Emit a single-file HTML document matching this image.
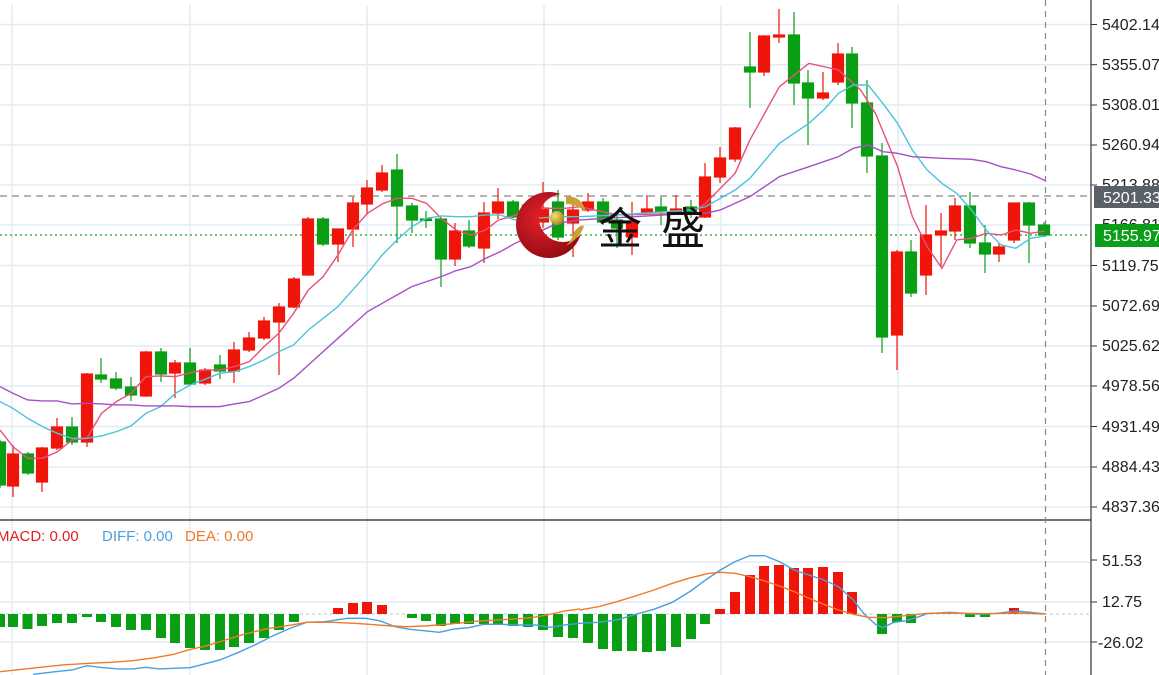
<!DOCTYPE html>
<html><head><meta charset="utf-8"><style>
html,body{margin:0;padding:0;background:#fff;width:1159px;height:675px;overflow:hidden}
svg{display:block}
text{font-family:"Liberation Sans",sans-serif}
</style></head><body>
<svg width="1159" height="675" viewBox="0 0 1159 675" xmlns="http://www.w3.org/2000/svg">
<defs>
<radialGradient id="rg" cx="0.4" cy="0.4" r="0.7"><stop offset="0" stop-color="#e8202a"/><stop offset="1" stop-color="#8a0a12"/></radialGradient>
<radialGradient id="gg" cx="0.35" cy="0.35" r="0.7"><stop offset="0" stop-color="#f6e27a"/><stop offset="1" stop-color="#a8841c"/></radialGradient>
<mask id="cm"><rect x="500" y="180" width="100" height="100" fill="#fff"/><circle cx="563" cy="218" r="24" fill="#000"/></mask>
</defs>
<g stroke="#e3ebf2" stroke-width="1.5">
<line x1="0" y1="24.5" x2="1091" y2="24.5"/><line x1="0" y1="64.7" x2="1091" y2="64.7"/><line x1="0" y1="105" x2="1091" y2="105"/><line x1="0" y1="145" x2="1091" y2="145"/><line x1="0" y1="185" x2="1091" y2="185"/><line x1="0" y1="225" x2="1091" y2="225"/><line x1="0" y1="265.5" x2="1091" y2="265.5"/><line x1="0" y1="306" x2="1091" y2="306"/><line x1="0" y1="346" x2="1091" y2="346"/><line x1="0" y1="386" x2="1091" y2="386"/><line x1="0" y1="426.5" x2="1091" y2="426.5"/><line x1="0" y1="467" x2="1091" y2="467"/><line x1="0" y1="507" x2="1091" y2="507"/>
<line x1="0" y1="562" x2="1091" y2="562"/><line x1="0" y1="602" x2="1091" y2="602"/><line x1="0" y1="642" x2="1091" y2="642"/>
<line x1="12" y1="5" x2="12" y2="675"/><line x1="190" y1="5" x2="190" y2="675"/><line x1="367" y1="5" x2="367" y2="675"/><line x1="544" y1="5" x2="544" y2="675"/><line x1="721" y1="5" x2="721" y2="675"/><line x1="898" y1="5" x2="898" y2="675"/>
</g>
<line x1="0" y1="520" x2="1091" y2="520" stroke="#222" stroke-width="1.2"/>
<line x1="1091" y1="0" x2="1091" y2="675" stroke="#333" stroke-width="1.2"/>
<line x1="1045.5" y1="0" x2="1045.5" y2="675" stroke="#888" stroke-width="1.2" stroke-dasharray="6,5"/>
<line x1="0" y1="196" x2="1091" y2="196" stroke="#888" stroke-width="1.2" stroke-dasharray="7,5"/>
<line x1="0" y1="235" x2="1091" y2="235" stroke="#1a9e1a" stroke-width="1.2" stroke-dasharray="2,3"/>
<line x1="0" y1="614" x2="1091" y2="614" stroke="#9fd3e6" stroke-width="1" stroke-dasharray="3,3"/>

<g stroke-width="1.2">
<g fill="#0a9e14" stroke="#0a9e14">
<line x1="0" y1="440" x2="0" y2="488"/><rect x="-5.5" y="442" width="11" height="43"/>
<line x1="28" y1="452" x2="28" y2="475"/><rect x="22.5" y="454" width="11" height="19"/>
<line x1="72" y1="417" x2="72" y2="445"/><rect x="66.5" y="427" width="11" height="15"/>
<line x1="101" y1="358" x2="101" y2="383"/><rect x="95.5" y="375" width="11" height="4"/>
<line x1="116" y1="372" x2="116" y2="390"/><rect x="110.5" y="379" width="11" height="9"/>
<line x1="131" y1="377" x2="131" y2="401"/><rect x="125.5" y="387" width="11" height="8"/>
<line x1="161" y1="348" x2="161" y2="382"/><rect x="155.5" y="352" width="11" height="22"/>
<line x1="190" y1="348" x2="190" y2="385"/><rect x="184.5" y="363" width="11" height="21"/>
<line x1="220" y1="355" x2="220" y2="379"/><rect x="214.5" y="365" width="11" height="6"/>
<line x1="323" y1="217" x2="323" y2="246"/><rect x="317.5" y="219" width="11" height="25"/>
<line x1="397" y1="154" x2="397" y2="243"/><rect x="391.5" y="170" width="11" height="36"/>
<line x1="412" y1="203" x2="412" y2="233"/><rect x="406.5" y="206" width="11" height="14"/>
<line x1="426" y1="211" x2="426" y2="228"/><rect x="420.5" y="219" width="11" height="1.5"/>
<line x1="441" y1="218" x2="441" y2="287"/><rect x="435.5" y="219" width="11" height="40"/>
<line x1="469" y1="220" x2="469" y2="248"/><rect x="463.5" y="231" width="11" height="15"/>
<line x1="513" y1="200" x2="513" y2="218"/><rect x="507.5" y="202" width="11" height="15"/>
<line x1="528" y1="200" x2="528" y2="220"/><rect x="522.5" y="205" width="11" height="10"/>
<line x1="558" y1="190" x2="558" y2="240"/><rect x="552.5" y="202" width="11" height="35"/>
<line x1="603" y1="198" x2="603" y2="225"/><rect x="597.5" y="202" width="11" height="20"/>
<line x1="617" y1="214" x2="617" y2="248"/><rect x="611.5" y="220" width="11" height="8"/>
<line x1="661" y1="197" x2="661" y2="225"/><rect x="655.5" y="207" width="11" height="5"/>
<line x1="691" y1="200" x2="691" y2="218"/><rect x="685.5" y="207" width="11" height="6"/>
<line x1="750" y1="32" x2="750" y2="108"/><rect x="744.5" y="67" width="11" height="5"/>
<line x1="794" y1="12" x2="794" y2="105"/><rect x="788.5" y="35" width="11" height="48"/>
<line x1="808" y1="70" x2="808" y2="145"/><rect x="802.5" y="83" width="11" height="15"/>
<line x1="852" y1="47" x2="852" y2="128"/><rect x="846.5" y="54" width="11" height="49"/>
<line x1="867" y1="80" x2="867" y2="173"/><rect x="861.5" y="103" width="11" height="53"/>
<line x1="882" y1="143" x2="882" y2="353"/><rect x="876.5" y="156" width="11" height="181"/>
<line x1="911" y1="240" x2="911" y2="297"/><rect x="905.5" y="252" width="11" height="41"/>
<line x1="970" y1="192" x2="970" y2="248"/><rect x="964.5" y="206" width="11" height="37"/>
<line x1="985" y1="225" x2="985" y2="273"/><rect x="979.5" y="243" width="11" height="11"/>
<line x1="1029" y1="202" x2="1029" y2="263"/><rect x="1023.5" y="203" width="11" height="22"/>
<line x1="1044" y1="222" x2="1044" y2="237"/><rect x="1038.5" y="225" width="11" height="10"/>
</g>
<g fill="#f0150a" stroke="#f0150a">
<line x1="13" y1="445" x2="13" y2="497"/><rect x="7.5" y="454" width="11" height="32"/>
<line x1="42" y1="447" x2="42" y2="492"/><rect x="36.5" y="448" width="11" height="34"/>
<line x1="57" y1="418" x2="57" y2="450"/><rect x="51.5" y="427" width="11" height="21"/>
<line x1="87" y1="373" x2="87" y2="447"/><rect x="81.5" y="374" width="11" height="68"/>
<line x1="146" y1="351" x2="146" y2="397"/><rect x="140.5" y="352" width="11" height="44"/>
<line x1="175" y1="360" x2="175" y2="398"/><rect x="169.5" y="363" width="11" height="10"/>
<line x1="205" y1="368" x2="205" y2="385"/><rect x="199.5" y="370" width="11" height="13"/>
<line x1="234" y1="342" x2="234" y2="383"/><rect x="228.5" y="350" width="11" height="21"/>
<line x1="249" y1="332" x2="249" y2="352"/><rect x="243.5" y="338" width="11" height="12"/>
<line x1="264" y1="317" x2="264" y2="340"/><rect x="258.5" y="321" width="11" height="17"/>
<line x1="279" y1="303" x2="279" y2="375"/><rect x="273.5" y="307" width="11" height="15"/>
<line x1="294" y1="277" x2="294" y2="308"/><rect x="288.5" y="279" width="11" height="28"/>
<line x1="308" y1="217" x2="308" y2="276"/><rect x="302.5" y="219" width="11" height="56"/>
<line x1="338" y1="229" x2="338" y2="262"/><rect x="332.5" y="229" width="11" height="15"/>
<line x1="353" y1="197" x2="353" y2="247"/><rect x="347.5" y="203" width="11" height="26"/>
<line x1="367" y1="180" x2="367" y2="215"/><rect x="361.5" y="188" width="11" height="16"/>
<line x1="382" y1="165" x2="382" y2="192"/><rect x="376.5" y="173" width="11" height="17"/>
<line x1="455" y1="223" x2="455" y2="266"/><rect x="449.5" y="231" width="11" height="28"/>
<line x1="484" y1="202" x2="484" y2="263"/><rect x="478.5" y="213" width="11" height="35"/>
<line x1="498" y1="188" x2="498" y2="219"/><rect x="492.5" y="202" width="11" height="11"/>
<line x1="543" y1="182" x2="543" y2="228"/><rect x="537.5" y="208" width="11" height="14"/>
<line x1="573" y1="198" x2="573" y2="257"/><rect x="567.5" y="210" width="11" height="13"/>
<line x1="588" y1="193" x2="588" y2="212"/><rect x="582.5" y="202" width="11" height="8"/>
<line x1="632" y1="202" x2="632" y2="255"/><rect x="626.5" y="222" width="11" height="15"/>
<line x1="647" y1="195" x2="647" y2="214"/><rect x="641.5" y="209" width="11" height="3"/>
<line x1="676" y1="195" x2="676" y2="215"/><rect x="670.5" y="209" width="11" height="4"/>
<line x1="705" y1="163" x2="705" y2="218"/><rect x="699.5" y="177" width="11" height="40"/>
<line x1="720" y1="147" x2="720" y2="183"/><rect x="714.5" y="158" width="11" height="19"/>
<line x1="735" y1="127" x2="735" y2="162"/><rect x="729.5" y="128" width="11" height="31"/>
<line x1="764" y1="35" x2="764" y2="76"/><rect x="758.5" y="36" width="11" height="36"/>
<line x1="779" y1="9" x2="779" y2="43"/><rect x="773.5" y="35" width="11" height="2"/>
<line x1="823" y1="72" x2="823" y2="100"/><rect x="817.5" y="93" width="11" height="5"/>
<line x1="838" y1="43" x2="838" y2="85"/><rect x="832.5" y="54" width="11" height="28"/>
<line x1="897" y1="250" x2="897" y2="370"/><rect x="891.5" y="252" width="11" height="83"/>
<line x1="926" y1="205" x2="926" y2="295"/><rect x="920.5" y="235" width="11" height="40"/>
<line x1="941" y1="213" x2="941" y2="267"/><rect x="935.5" y="231" width="11" height="4"/>
<line x1="955" y1="198" x2="955" y2="240"/><rect x="949.5" y="206" width="11" height="25"/>
<line x1="999" y1="243" x2="999" y2="262"/><rect x="993.5" y="247" width="11" height="7"/>
<line x1="1014" y1="203" x2="1014" y2="243"/><rect x="1008.5" y="203" width="11" height="37"/>
</g>
</g>

<g fill="none" stroke-width="1.4">
<g transform="scale(0.3693,0.3333)">
<polyline vector-effect="non-scaling-stroke" stroke="#e8507a" points="0,1290 35,1340 75,1375 115,1375 155,1356 195,1320 235,1315 275,1240 315,1205 355,1180 395,1130 435,1128 475,1130 515,1118 555,1110 595,1110 635,1100 675,1085 715,1040 755,1000 795,940 835,870 875,830 915,765 955,690 995,640 1035,612 1075,595 1115,595 1155,610 1195,655 1235,690 1275,705 1315,690 1350,660 1390,648 1430,630 1480,625 1530,625 1571,620"/>
<polyline vector-effect="non-scaling-stroke" stroke="#4cc3d9" points="0,1205 35,1225 75,1255 115,1280 155,1300 195,1315 235,1315 275,1308 315,1295 355,1278 395,1240 435,1220 475,1180 515,1155 555,1138 595,1120 635,1115 675,1100 715,1080 755,1055 795,1035 835,990 875,955 915,920 955,870 995,820 1035,765 1075,720 1115,680 1155,655 1195,648 1235,650 1275,650 1315,645 1355,645 1395,660 1450,655 1510,650 1571,650"/>
<polyline vector-effect="non-scaling-stroke" stroke="#a64fc4" points="0,1160 35,1180 75,1200 115,1203 155,1203 195,1212 235,1210 275,1212 315,1215 355,1215 395,1218 475,1218 515,1220 595,1220 635,1212 675,1205 715,1185 755,1165 795,1135 835,1095 875,1055 915,1015 955,975 995,935 1035,910 1075,885 1115,860 1155,845 1195,830 1235,812 1275,800 1315,775 1355,755 1395,730 1450,700 1510,670 1571,660"/>
</g>
<g transform="translate(580,0) scale(0.3693,0.3333)">
<polyline vector-effect="non-scaling-stroke" stroke="#e8507a" points="0,620 100,645 300,640 340,610 420,520 460,420 540,260 620,190 700,210 760,270 800,340 860,500 900,650 940,740 980,805 1020,720 1060,715 1100,700 1140,705 1180,690 1220,700 1260,693"/>
<polyline vector-effect="non-scaling-stroke" stroke="#4cc3d9" points="0,650 100,645 300,630 340,620 420,570 460,535 540,430 620,370 660,330 700,280 740,255 780,255 820,310 860,370 900,450 940,510 980,550 1020,580 1060,630 1100,690 1140,735 1180,745 1220,715 1260,708"/>
<polyline vector-effect="non-scaling-stroke" stroke="#a64fc4" points="0,660 300,640 340,640 380,630 460,590 540,530 620,500 700,470 740,445 780,435 820,455 860,460 900,470 980,475 1060,478 1100,485 1140,500 1180,510 1220,522 1260,542"/>
</g>
</g>

<circle cx="549" cy="225" r="33" fill="url(#rg)" mask="url(#cm)"/>
<path d="M566,196 Q582,196 586,212 Q576,204 566,204 Z" fill="#c9a235"/>
<path d="M574,232 Q580,224 584,226 Q580,238 566,246 Q572,240 574,232 Z" fill="#c9a235"/>
<circle cx="557" cy="218" r="7" fill="url(#gg)"/>
<text x="598" y="244" font-size="44" fill="#111" style="font-family:'Liberation Sans','Noto Sans CJK SC',sans-serif">金</text>
<text x="661" y="244" font-size="44" fill="#111" style="font-family:'Liberation Sans','Noto Sans CJK SC',sans-serif">盛</text>

<g fill="#0a9e14">
<rect x="-5" y="614" width="10" height="13"/><rect x="8" y="614" width="10" height="13"/><rect x="22.5" y="614" width="10" height="15"/><rect x="37" y="614" width="10" height="12"/><rect x="52" y="614" width="10" height="9"/><rect x="67" y="614" width="10" height="9"/><rect x="82" y="614" width="10" height="3"/><rect x="96" y="614" width="10" height="8"/><rect x="111" y="614" width="10" height="13"/><rect x="126" y="614" width="10" height="16"/><rect x="141" y="614" width="10" height="16"/><rect x="156" y="614" width="10" height="24"/><rect x="170" y="614" width="10" height="29"/><rect x="185" y="614" width="10" height="34"/><rect x="200" y="614" width="10" height="36"/><rect x="215" y="614" width="10" height="36"/><rect x="229" y="614" width="10" height="33"/><rect x="244" y="614" width="10" height="29"/><rect x="259" y="614" width="10" height="24"/><rect x="274" y="614" width="10" height="16"/><rect x="289" y="614" width="10" height="8"/>
<rect x="407" y="614" width="10" height="4"/><rect x="421" y="614" width="10" height="7"/><rect x="436" y="614" width="10" height="12"/><rect x="450" y="614" width="10" height="10"/><rect x="464" y="614" width="10" height="10"/><rect x="479" y="614" width="10" height="10"/><rect x="493" y="614" width="10" height="10"/><rect x="508" y="614" width="10" height="12"/><rect x="523" y="614" width="10" height="13"/><rect x="538" y="614" width="10" height="16"/><rect x="553" y="614" width="10" height="23"/><rect x="568" y="614" width="10" height="24"/>
<rect x="583" y="614" width="10" height="29"/><rect x="598" y="614" width="10" height="35"/><rect x="612" y="614" width="10" height="37"/><rect x="627" y="614" width="10" height="37"/><rect x="642" y="614" width="10" height="38"/><rect x="656" y="614" width="10" height="37"/><rect x="671" y="614" width="10" height="33"/><rect x="686" y="614" width="10" height="25"/><rect x="700" y="614" width="10" height="10"/>
<rect x="877" y="614" width="10" height="20"/><rect x="892" y="614" width="10" height="8"/><rect x="906" y="614" width="10" height="9"/><rect x="965" y="614" width="10" height="3"/><rect x="980" y="614" width="10" height="3"/>
</g>
<g fill="#f0150a">
<rect x="333" y="608" width="10" height="6"/><rect x="348" y="603" width="10" height="11"/><rect x="362" y="602" width="10" height="12"/><rect x="377" y="605" width="10" height="9"/>
<rect x="715" y="609" width="10" height="5"/><rect x="730" y="592" width="10" height="22"/><rect x="745" y="575" width="10" height="39"/><rect x="759" y="566" width="10" height="48"/><rect x="774" y="565" width="10" height="49"/><rect x="789" y="568" width="10" height="46"/><rect x="803" y="568" width="10" height="46"/><rect x="818" y="567" width="10" height="47"/><rect x="833" y="572" width="10" height="42"/><rect x="847" y="592" width="10" height="22"/>
<rect x="1009" y="608" width="10" height="6"/>
</g>
<g fill="none" stroke-width="1.4">
<g transform="translate(0,515) scale(0.3693,0.3333)">
<polyline vector-effect="non-scaling-stroke" stroke="#4a9ee0" points="90,478 150,470 195,465 235,452 280,458 320,462 360,462 395,457 430,462 470,460 515,458 550,448 595,435 640,415 690,390 740,362 790,338 830,322 880,320 940,310 990,310 1030,318 1070,335 1110,343 1190,352 1230,342 1270,338 1310,328 1360,328 1400,330 1450,330 1490,337 1530,330 1571,325"/>
<polyline vector-effect="non-scaling-stroke" stroke="#f07a28" points="0,470 100,458 170,450 240,445 300,442 360,437 420,428 470,418 510,405 560,392 610,375 660,358 720,342 790,330 830,322 900,322 960,325 1000,328 1060,333 1100,335 1150,333 1220,327 1300,318 1380,313 1440,308 1490,298 1530,288 1571,282"/>
</g>
<g transform="translate(580,515) scale(0.3693,0.3333)">
<polyline vector-effect="non-scaling-stroke" stroke="#4a9ee0" points="0,325 50,322 100,315 150,298 200,283 250,262 300,228 340,195 380,165 420,140 460,122 500,122 540,140 580,165 620,180 660,195 700,215 740,255 770,298 800,328 820,338 850,322 880,318 910,308 940,296 1000,292 1040,295 1080,298 1130,295 1180,288 1220,292 1260,297"/>
<polyline vector-effect="non-scaling-stroke" stroke="#f07a28" points="0,285 50,275 100,260 150,243 200,225 250,205 300,188 350,175 380,172 420,175 460,185 500,198 540,213 580,230 620,250 660,268 700,285 740,298 780,307 830,308 880,302 940,295 1000,294 1100,296 1180,294 1260,297"/>
</g>
</g>

<text x="-3" y="541" font-size="15" fill="#e02020">MACD: 0.00</text>
<text x="102" y="541" font-size="15" fill="#4a9ee0">DIFF: 0.00</text>
<text x="185" y="541" font-size="15" fill="#f07a28">DEA: 0.00</text>

<g stroke="#333" stroke-width="1">
<line x1="1091" y1="24.5" x2="1097" y2="24.5"/><line x1="1091" y1="64.7" x2="1097" y2="64.7"/><line x1="1091" y1="105" x2="1097" y2="105"/><line x1="1091" y1="145" x2="1097" y2="145"/><line x1="1091" y1="185" x2="1097" y2="185"/><line x1="1091" y1="265.5" x2="1097" y2="265.5"/><line x1="1091" y1="306" x2="1097" y2="306"/><line x1="1091" y1="346" x2="1097" y2="346"/><line x1="1091" y1="386" x2="1097" y2="386"/><line x1="1091" y1="426.5" x2="1097" y2="426.5"/><line x1="1091" y1="467" x2="1097" y2="467"/><line x1="1091" y1="507" x2="1097" y2="507"/>
<line x1="1091" y1="560" x2="1097" y2="560"/><line x1="1091" y1="602" x2="1097" y2="602"/><line x1="1091" y1="642" x2="1097" y2="642"/>
</g>
<g font-size="16" fill="#222">
<text x="1102" y="30">5402.14</text><text x="1102" y="70">5355.07</text><text x="1102" y="110">5308.01</text><text x="1102" y="150">5260.94</text><text x="1102" y="190">5213.88</text><text x="1102" y="230">5166.81</text><text x="1102" y="271">5119.75</text><text x="1102" y="311">5072.69</text><text x="1102" y="351">5025.62</text><text x="1102" y="391">4978.56</text><text x="1102" y="432">4931.49</text><text x="1102" y="472">4884.43</text><text x="1102" y="512">4837.36</text>
<text x="1102" y="566">51.53</text><text x="1102" y="607">12.75</text><text x="1098" y="648">-26.02</text>
</g>
<rect x="1094" y="186" width="65" height="22" fill="#5a6068"/>
<text x="1103" y="203" font-size="16" fill="#fff">5201.33</text>
<rect x="1095" y="224" width="64" height="23" fill="#0c9e1a"/>
<text x="1103" y="241" font-size="16" fill="#fff">5155.97</text>
</svg>
</body></html>
